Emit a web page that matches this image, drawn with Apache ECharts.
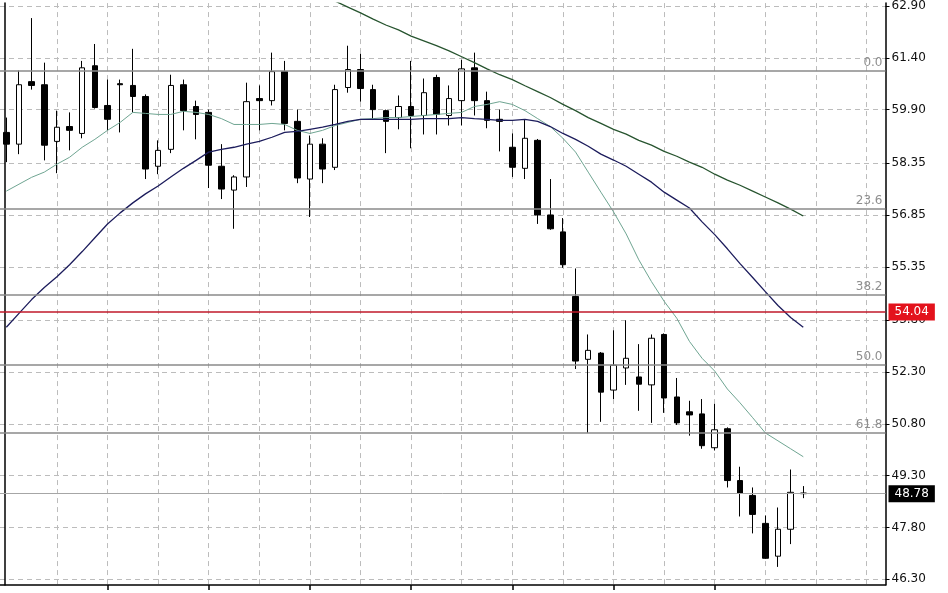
<!DOCTYPE html>
<html><head><meta charset="utf-8">
<script src="https://cdn.jsdelivr.net/npm/echarts@6/dist/echarts.min.js"></script>
<style>html,body{margin:0;padding:0;background:#fff}#c{width:948px;height:593px}</style>
</head><body><div id="c"></div>
<script>
// Daily candles (oldest -> newest)
const openP  = [59.24,58.90,60.71,60.62,58.98,59.41,59.21,61.17,60.02,60.65,60.60,60.28,58.26,58.75,60.62,59.99,59.82,58.26,57.57,57.95,60.22,60.16,61.00,59.56,57.89,58.90,58.23,60.54,61.06,60.48,59.87,59.67,59.99,59.73,60.83,59.73,60.16,61.11,60.16,59.62,58.81,58.20,59.01,56.85,56.36,54.49,52.67,52.85,51.78,52.42,52.16,51.93,53.39,51.58,51.15,51.09,50.11,50.66,49.16,48.73,47.92,46.97,47.75,48.80];
const highP  = [59.67,61.03,62.55,61.26,59.87,59.82,61.31,61.80,60.77,60.77,61.66,60.34,59.01,60.91,60.77,60.16,59.90,58.90,58.00,60.68,60.60,61.55,61.31,59.90,59.15,59.07,60.62,61.75,61.52,60.62,59.90,60.31,61.31,60.80,60.91,60.60,61.34,61.55,60.42,59.90,59.21,59.62,59.05,57.89,56.76,55.30,53.39,52.88,53.51,53.80,53.11,53.39,53.42,52.13,51.47,51.52,51.38,50.70,49.56,48.96,48.15,48.38,49.48,49.00];
const lowP   = [58.38,58.61,60.48,58.43,58.06,58.72,59.07,59.93,59.30,59.24,59.82,57.89,58.03,58.64,59.30,59.04,57.63,57.31,56.45,57.66,59.30,60.02,59.30,57.77,56.79,57.77,58.15,60.39,60.13,59.62,58.64,59.33,58.78,59.18,59.18,59.44,59.44,59.73,59.36,58.69,57.95,57.89,56.59,56.42,55.32,52.39,50.54,50.86,51.52,51.93,51.18,50.83,51.12,50.77,50.46,50.08,50.03,48.96,48.12,47.63,46.89,46.66,47.32,48.65];
const closeP = [58.90,60.62,60.60,58.87,59.39,59.30,61.11,59.96,59.62,60.62,60.28,58.18,58.72,60.60,59.87,59.76,58.29,57.60,57.95,60.13,60.16,61.00,59.50,57.92,58.90,58.18,60.48,61.06,60.51,59.90,59.56,59.99,59.73,60.39,59.76,60.22,61.08,60.16,59.59,59.56,58.23,59.07,56.85,56.45,55.41,52.62,52.93,51.72,52.50,52.70,51.95,53.28,51.55,50.83,51.06,50.17,50.63,49.16,48.79,48.18,46.91,47.75,48.82,48.78];

// Moving averages
const maFast = [57.54,57.74,57.94,58.09,58.32,58.52,58.81,59.04,59.30,59.53,59.82,59.79,59.76,59.76,59.85,59.82,59.76,59.64,59.47,59.47,59.47,59.50,59.47,59.30,59.21,59.30,59.44,59.53,59.62,59.64,59.67,59.67,59.70,59.73,59.76,59.79,59.82,59.99,60.05,60.13,60.05,59.87,59.64,59.41,59.07,58.67,58.09,57.51,56.94,56.30,55.55,54.92,54.35,53.86,53.19,52.70,52.33,51.81,51.41,50.98,50.54,50.31,50.08,49.85];
const maMid  = [53.60,54.00,54.40,54.75,55.06,55.41,55.79,56.19,56.59,56.91,57.20,57.46,57.69,57.95,58.20,58.43,58.67,58.75,58.81,58.90,58.98,59.10,59.24,59.27,59.33,59.39,59.47,59.56,59.62,59.62,59.62,59.62,59.62,59.64,59.64,59.64,59.67,59.64,59.62,59.59,59.59,59.62,59.56,59.41,59.21,59.04,58.84,58.61,58.44,58.26,58.03,57.80,57.51,57.28,57.05,56.65,56.28,55.87,55.44,55.04,54.63,54.23,53.88,53.60];
const maSlow = [null,null,null,null,null,null,null,null,null,null,null,null,null,null,null,null,null,null,null,null,null,null,null,null,null,null,63.04,62.87,62.70,62.52,62.35,62.21,62.03,61.89,61.75,61.60,61.43,61.26,61.08,60.91,60.77,60.59,60.42,60.25,60.05,59.87,59.67,59.50,59.33,59.19,59.01,58.87,58.69,58.55,58.38,58.23,58.03,57.86,57.71,57.54,57.37,57.20,57.02,56.82];

// Price scale tick labels
const yTicks = [46.30,47.80,49.30,50.80,52.30,53.80,55.35,56.85,58.35,59.90,61.40,62.90];
// Fibonacci retracement levels
const fibValues = [61.02,57.02,54.53,52.52,50.53];
const fibLabels = ['0.0','23.6','38.2','50.0','61.8'];
const redLevel = 54.04;
const lastPrice = 48.78;
const emptySlots = 6;

const N = openP.length + emptySlots;
const categories = Array.from({length: N}, (_, i) => String(i + 1));
const candleData = openP.map((o, i) => [o, closeP[i], lowP[i], highP[i]]);

const FONT = 'DejaVu Sans';
const yMin = 46.136, yMax = 62.985;

const markData = fibValues.map((v, i) => ({
  yAxis: v,
  lineStyle: {color: '#8a8a8a', width: 1.5, type: 'solid'},
  label: {show: true, position: 'insideEndTop', formatter: fibLabels[i], color: '#8f8f8f',
          fontFamily: FONT, fontSize: 12, distance: [3, 2]}
}));
markData.push({
  yAxis: redLevel,
  lineStyle: {color: '#c0182a', width: 1.5, type: 'solid'},
  label: {show: true, position: 'end', formatter: redLevel.toFixed(2), color: '#fff',
          backgroundColor: '#e3121c', padding: [3, 6, 2, 6], fontFamily: FONT, fontSize: 12, distance: 3}
});
markData.push({
  yAxis: lastPrice,
  lineStyle: {color: '#a6a6a6', width: 1, type: 'solid'},
  label: {show: true, position: 'end', formatter: lastPrice.toFixed(2), color: '#fff',
          backgroundColor: '#000', padding: [3, 6, 2, 6], fontFamily: FONT, fontSize: 12, distance: 3}
});

const chart = echarts.init(document.getElementById('c'), null, {renderer: 'canvas'});
chart.setOption({
  animation: false,
  backgroundColor: '#fff',
  grid: {left: 0, right: 62.5, top: 0, bottom: 8},
  xAxis: {
    type: 'category', data: categories, boundaryGap: true,
    axisLine: {show: true, lineStyle: {color: '#000', width: 1.5}},
    axisTick: {show: true, alignWithLabel: true, length: 5,
      interval: (i) => i > 0 && i % 8 === 0 && i < openP.length,
      lineStyle: {color: '#000', width: 1.5}},
    axisLabel: {show: false},
    splitLine: {show: true, alignWithLabel: true,
      interval: (i) => i > 0 && i % 4 === 0,
      lineStyle: {color: '#bcbcbc', type: [5, 4], width: 1}}
  },
  yAxis: [{
    type: 'value', position: 'right', min: yMin, max: yMax,
    axisLine: {show: true, lineStyle: {color: '#000', width: 1.5}},
    axisTick: {show: true, customValues: yTicks, length: 4, lineStyle: {color: '#000'}},
    axisLabel: {show: true, customValues: yTicks, formatter: (v) => v.toFixed(2),
      color: '#111', fontFamily: FONT, fontSize: 12, margin: 6},
    splitLine: {show: true, lineStyle: {color: '#bcbcbc', type: [5, 4], width: 1}}
  }, {
    type: 'value', position: 'left', offset: -5, min: yMin, max: yMax,
    axisLine: {show: true, lineStyle: {color: '#000', width: 1.5}},
    axisTick: {show: false}, axisLabel: {show: false}, splitLine: {show: false}
  }],
  series: [{
    type: 'candlestick', data: candleData, barWidth: 6, silent: true,
    itemStyle: {color: '#fff', color0: '#000', borderColor: '#000', borderColor0: '#000', borderWidth: 1},
    markLine: {symbol: ['none', 'none'], silent: true, animation: false, data: markData}
  }, {
    type: 'line', data: maFast, showSymbol: false, silent: true, z: 3,
    lineStyle: {color: '#6fa592', width: 1}
  }, {
    type: 'line', data: maMid, showSymbol: false, silent: true, z: 3,
    lineStyle: {color: '#1c1c5c', width: 1.3}
  }, {
    type: 'line', data: maSlow, showSymbol: false, silent: true, z: 3,
    lineStyle: {color: '#27542f', width: 1.3}
  }]
});
</script>
</body></html>
